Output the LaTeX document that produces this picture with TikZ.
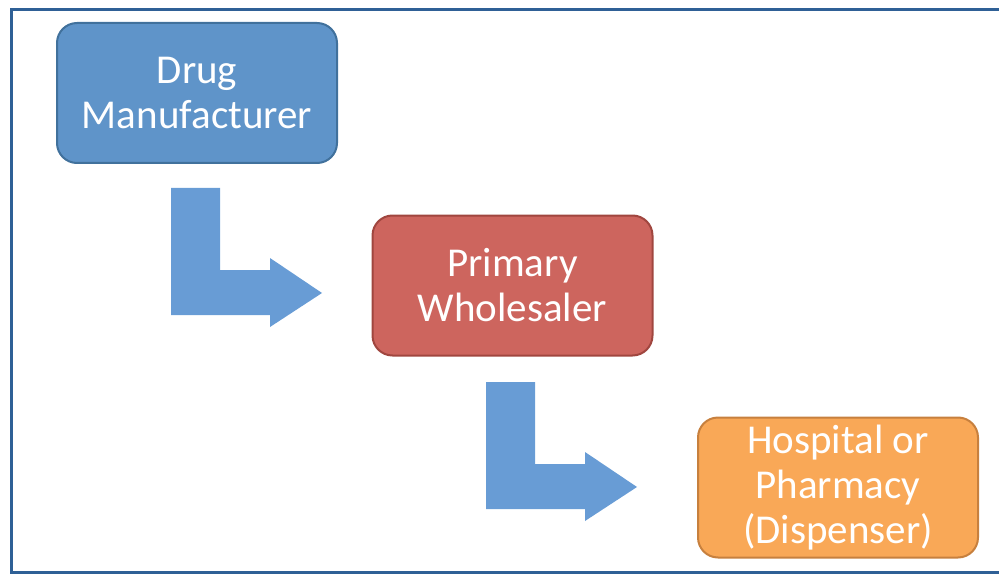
\documentclass[tikz,border=0pt]{standalone}
\usepackage{fontspec}
\setmainfont{Carlito}
\usepackage{tikz}

\definecolor{frameblue}{HTML}{2F6096}
\definecolor{mfill}{HTML}{5F94C9}
\definecolor{mline}{HTML}{41719C}
\definecolor{wfill}{HTML}{CD655E}
\definecolor{wline}{HTML}{A0463F}
\definecolor{dfill}{HTML}{F9A857}
\definecolor{dline}{HTML}{C7803E}
\definecolor{arrowblue}{HTML}{689CD5}

\begin{document}
\begin{tikzpicture}[x=1pt, y=-1pt,
        box/.style = {draw, rounded corners=20pt, line width=2pt,
            minimum width=280pt, minimum height=140pt, text=white,
            align=center, font=\fontsize{41}{45}\selectfont}]
                \useasboundingbox (0,0) rectangle (999,575);
                \draw[frameblue, line width=3pt] (11,9.5) rectangle (1010,572);

                \node[box, fill=mfill, draw=mline] (maker) at (197,93)
                    {Drug\\Manufacturer};
                \node[box, fill=wfill, draw=wline] (seller) at (512.5,285.5)
                    {Primary\\Wholesaler};
                \node[box, fill=dfill, draw=dline] (dispenser) at (838,487.5)
                    {Hospital or\\Pharmacy\\(Dispenser)};

                \foreach \ax/\ay in {171/188, 486/382} {
                    \fill[arrowblue] (\ax,\ay) -- ++(49,0) -- ++(0,82)
                        -- ++(50,0) -- ++(0,-12) -- ++(52,35) -- ++(-52,34)
                        -- ++(0,-12) -- ++(-99,0) -- cycle;
                }
            \end{tikzpicture}
\end{document}
